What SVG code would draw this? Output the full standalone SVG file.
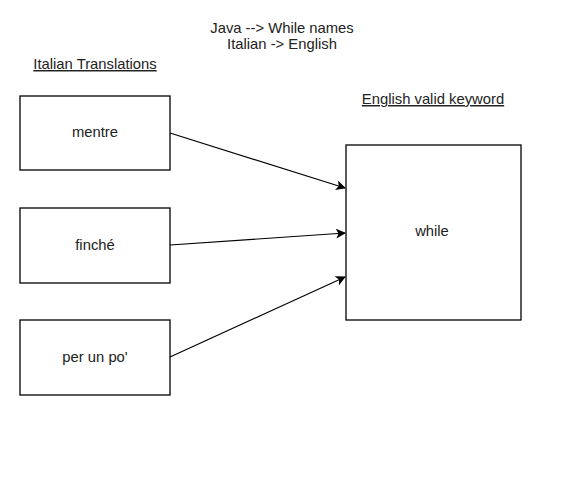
<svg xmlns="http://www.w3.org/2000/svg" width="563" height="492" viewBox="0 0 563 492">
<style>
.box{fill:#fff;stroke:#000;stroke-width:1.3}
.t{font-family:"Liberation Sans",Arial,sans-serif;font-size:14.8px;fill:#222;text-anchor:middle}
.u{text-decoration:underline}
.c{fill:none;stroke:#000;stroke-width:1.2}
</style>
<defs>
<marker id="ah" viewBox="0 0 10 10" refX="9" refY="5" markerWidth="10" markerHeight="10" markerUnits="userSpaceOnUse" orient="auto">
<path d="M0,0 L10,5 L0,10 L2.5,5 Z" fill="#000"/>
</marker>
</defs>
<rect width="563" height="492" fill="#fff"/>
<g id="title">
<text class="t" x="282" y="33">Java --&gt; While names</text>
<text class="t" x="282" y="49">Italian -&gt; English</text>
</g>
<g id="label-italian"><text class="t u" x="95" y="69">Italian Translations</text></g>
<g id="label-english"><text class="t u" x="433" y="104">English valid keyword</text></g>
<g id="mentre"><rect class="box" x="20" y="96" width="150" height="74"/><text class="t" x="95" y="137">mentre</text></g>
<g id="finche"><rect class="box" x="20" y="208" width="150" height="75"/><text class="t" x="95" y="250">finché</text></g>
<g id="perunpo"><rect class="box" x="20" y="320" width="150" height="75"/><text class="t" x="95" y="362">per un po'</text></g>
<g id="while"><rect class="box" x="346" y="145" width="175" height="175"/><text class="t" x="432" y="236">while</text></g>
<g id="connectors">
<line class="c" x1="170" y1="133" x2="345" y2="188" marker-end="url(#ah)"/>
<line class="c" x1="170" y1="245" x2="345" y2="233" marker-end="url(#ah)"/>
<line class="c" x1="170" y1="357" x2="345" y2="277" marker-end="url(#ah)"/>
</g>
</svg>
